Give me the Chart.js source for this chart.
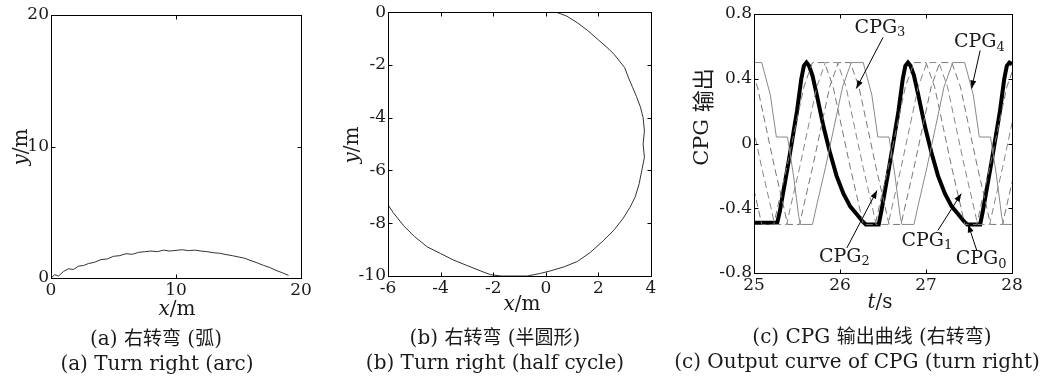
<!DOCTYPE html>
<html><head><meta charset="utf-8">
<script src="https://cdn.jsdelivr.net/npm/chart.js@4/dist/chart.umd.min.js"></script>
<style>
body{margin:0;background:#fff;width:1043px;height:385px;overflow:hidden;position:relative;font-family:"DejaVu Serif",serif;color:#1a1a1a}
canvas{position:absolute;left:0;top:0}
.cap{position:absolute;white-space:nowrap;transform:translate(-50%,-50%);font-size:20px;line-height:1}
.cjk{font-family:"Noto Sans CJK SC",sans-serif;font-size:19px}
</style></head><body>
<canvas id="ca" width="1043" height="385"></canvas>
<canvas id="cb" width="1043" height="385"></canvas>
<canvas id="cc" width="1043" height="385"></canvas>
<div class="cap" style="left:156px;top:337px">(a) <span class="cjk">右转弯</span> (<span class="cjk">弧</span>)</div>
<div class="cap" style="left:157px;top:363px">(a) Turn right (arc)</div>
<div class="cap" style="left:495px;top:336px">(b) <span class="cjk">右转弯</span> (<span class="cjk">半圆形</span>)</div>
<div class="cap" style="left:495px;top:362px">(b) Turn right (half cycle)</div>
<div class="cap" style="left:872px;top:335px">(c) CPG <span class="cjk">输出曲线</span> (<span class="cjk">右转弯</span>)</div>
<div class="cap" style="left:857px;top:361px">(c) Output curve of CPG (turn right)</div>
<script>
// ---------- data ----------
const arcX = [0,0.3,0.6,1,1.4,1.8,2.2,2.6,3,3.5,4,4.5,5,5.5,6,6.5,7,7.5,8,8.5,9,9.5,10,10.5,11,11.5,12,12.5,13,13.5,14,14.5,15,15.5,16,16.5,17,17.5,18,18.5,19];
const arcY = [0,0.25,0.15,0.5,0.7,0.65,0.9,0.95,1.1,1.2,1.4,1.45,1.65,1.7,1.85,1.8,1.95,2.0,2.05,2.0,2.12,2.05,2.1,2.15,2.08,2.12,2.05,2.0,1.92,1.88,1.78,1.7,1.6,1.5,1.32,1.15,0.96,0.8,0.58,0.4,0.2];

const circX = [0.4,0.8,1.2,1.6,2.0,2.4,2.6,2.8,3.0,3.15,3.3,3.45,3.6,3.7,3.75,3.7,3.75,3.65,3.55,3.4,3.2,2.95,2.6,2.2,1.7,1.2,0.7,0.2,-0.2,-0.7,-1.2,-1.7,-2.1,-2.5,-3.0,-3.5,-4.0,-4.5,-5.0,-5.4,-5.8,-6.0];
const circY = [0,-0.15,-0.4,-0.7,-1.05,-1.4,-1.6,-1.85,-2.1,-2.5,-2.85,-3.2,-3.6,-4.0,-4.5,-5.0,-5.5,-6.0,-6.5,-7.0,-7.4,-7.8,-8.25,-8.65,-9.1,-9.45,-9.65,-9.8,-9.9,-10,-10,-10,-9.95,-9.8,-9.6,-9.4,-9.15,-8.9,-8.5,-8.1,-7.6,-7.3];

const cpg0T = [25.0,25.27,25.30,25.40,25.50,25.55,25.58,25.61,25.64,25.68,25.73,25.81,25.88,25.96,26.04,26.12,26.20,26.26,26.30,26.45,26.48,26.58,26.68,26.73,26.76,26.79,26.82,26.86,26.91,26.99,27.06,27.14,27.22,27.30,27.38,27.44,27.48,27.63,27.66,27.76,27.86,27.91,27.94,27.97,28.0];
const cpg0V = [-0.49,-0.49,-0.42,-0.12,0.2,0.4,0.48,0.5,0.48,0.42,0.3,0.1,-0.05,-0.2,-0.31,-0.39,-0.44,-0.48,-0.5,-0.5,-0.42,-0.12,0.2,0.4,0.48,0.5,0.48,0.42,0.3,0.1,-0.05,-0.2,-0.31,-0.39,-0.44,-0.48,-0.5,-0.5,-0.42,-0.12,0.2,0.4,0.48,0.5,0.49];

const cpg1T = [24.50,24.64,24.74,24.84,24.94,25.04,25.09,25.23,25.28,25.38,25.48,25.58,25.68,25.82,25.92,26.02,26.12,26.22,26.27,26.41,26.46,26.56,26.66,26.76,26.86,27.00,27.10,27.20,27.30,27.40,27.45,27.59,27.64,27.74,27.84,27.94,28.04];
const cpg1V = [0.5,0.5,0.35,0.1,-0.15,-0.38,-0.5,-0.5,-0.38,-0.15,0.1,0.35,0.5,0.5,0.35,0.1,-0.15,-0.38,-0.5,-0.5,-0.38,-0.15,0.1,0.35,0.5,0.5,0.35,0.1,-0.15,-0.38,-0.5,-0.5,-0.38,-0.15,0.1,0.35,0.5];

const cpg2T = [24.65,24.79,24.89,24.99,25.09,25.19,25.24,25.38,25.43,25.53,25.63,25.73,25.83,25.97,26.07,26.17,26.27,26.37,26.42,26.56,26.61,26.71,26.81,26.91,27.01,27.15,27.25,27.35,27.45,27.55,27.60,27.74,27.79,27.89,27.99,28.09];
const cpg2V = [0.5,0.5,0.35,0.1,-0.15,-0.38,-0.5,-0.5,-0.38,-0.15,0.1,0.35,0.5,0.5,0.35,0.1,-0.15,-0.38,-0.5,-0.5,-0.38,-0.15,0.1,0.35,0.5,0.5,0.35,0.1,-0.15,-0.38,-0.5,-0.5,-0.38,-0.15,0.1,0.35];

const cpg3T = [24.80,24.94,25.04,25.14,25.24,25.34,25.39,25.53,25.58,25.68,25.78,25.88,25.98,26.12,26.22,26.32,26.42,26.52,26.57,26.71,26.76,26.86,26.96,27.06,27.16,27.30,27.40,27.50,27.60,27.70,27.75,27.89,27.94,28.04];
const cpg3V = [0.5,0.5,0.35,0.1,-0.15,-0.38,-0.5,-0.5,-0.38,-0.15,0.1,0.35,0.5,0.5,0.35,0.1,-0.15,-0.38,-0.5,-0.5,-0.38,-0.15,0.1,0.35,0.5,0.5,0.35,0.1,-0.15,-0.38,-0.5,-0.5,-0.38,-0.15];

const cpg4T = [24.95,25.09,25.19,25.26,25.39,25.46,25.52,25.54,25.68,25.73,25.83,25.93,26.03,26.13,26.27,26.37,26.44,26.57,26.64,26.70,26.72,26.86,26.91,27.01,27.11,27.21,27.31,27.45,27.55,27.62,27.75,27.82,27.88,27.90,28.04];
const cpg4V = [0.5,0.5,0.3,0.04,0.04,-0.2,-0.45,-0.5,-0.5,-0.38,-0.15,0.1,0.35,0.5,0.5,0.3,0.04,0.04,-0.2,-0.45,-0.5,-0.5,-0.38,-0.15,0.1,0.35,0.5,0.5,0.3,0.04,0.04,-0.2,-0.45,-0.5,-0.5];

const aTicksX = [0,10,20], aTicksY = [0,10,20];
const bTicksX = [-6,-4,-2,0,2,4], bTicksY = [-10,-8,-6,-4,-2,0];
const cTicksX = [25,26,27,28], cTicksY = [-0.8,-0.4,0,0.4,0.8];
const cTickLabelsY = ['-0.8','-0.4','0','0.4','0.8'];

// CPG labels: label anchor (t,v), arrow start (t,v), arrow tip (t,v)
const cpgLabels = [
  {n:'3', at:[26.465,0.716], from:[26.50,0.655], to:[26.19,0.34]},
  {n:'4', at:[27.62,0.626], from:[27.63,0.575], to:[27.53,0.34]},
  {n:'2', at:[26.05,-0.70], from:[26.08,-0.645], to:[26.43,-0.29]},
  {n:'1', at:[27.01,-0.60], from:[27.14,-0.536], to:[27.41,-0.31]},
  {n:'0', at:[27.64,-0.715], from:[27.59,-0.66], to:[27.49,-0.5]}
];

const pts = (xs, ys) => xs.map((x,i)=>({x, y: ys[i]}));
const SERIF = '"DejaVu Serif", serif';
const CJK = '"Noto Sans CJK SC", sans-serif';
const INK = '#1a1a1a';

function drawRuns(ctx, cx, cy, rot, runs){
  ctx.save();
  ctx.translate(cx, cy); ctx.rotate(rot);
  ctx.textBaseline = 'middle'; ctx.fillStyle = INK;
  let w = 0;
  runs.forEach(r=>{ ctx.font = r.f; r.w = ctx.measureText(r.t).width; w += r.w; });
  let x = -w/2;
  runs.forEach(r=>{ ctx.font = r.f; ctx.textAlign='left'; ctx.fillText(r.t, x, r.dy||0); x += r.w; });
  ctx.restore();
}

const framePlugin = {
  id: 'frame',
  afterDatasetsDraw(chart, args, opts){
    const {ctx, chartArea:a, scales:{x, y}} = chart;
    ctx.save();
    ctx.strokeStyle = '#000'; ctx.lineWidth = 1;
    const L = Math.round(a.left)+0.5, T = Math.round(a.top)+0.5, R = Math.round(a.right)+0.5, B = Math.round(a.bottom)+0.5;
    ctx.strokeRect(L, T, R-L, B-T);
    const tl = 4;
    ctx.beginPath();
    x.ticks.forEach(t=>{ const p = Math.round(x.getPixelForValue(t.value))+0.5; ctx.moveTo(p,B); ctx.lineTo(p,B-tl); ctx.moveTo(p,T); ctx.lineTo(p,T+tl); });
    y.ticks.forEach(t=>{ const p = Math.round(y.getPixelForValue(t.value))+0.5; ctx.moveTo(L,p); ctx.lineTo(L+tl,p); ctx.moveTo(R,p); ctx.lineTo(R-tl,p); });
    ctx.stroke();
    ctx.restore();
    (opts.texts||[]).forEach(tx => drawRuns(ctx, tx.x, tx.y, tx.rot||0, tx.runs));
    if (opts.labels){
      opts.labels.forEach(l=>{
        const ax = x.getPixelForValue(l.at[0]), ay = y.getPixelForValue(l.at[1]);
        drawRuns(ctx, ax, ay, 0, [{t:'CPG', f:'19px '+SERIF},{t:l.n, f:'13px '+SERIF, dy:5}]);
        const fx = x.getPixelForValue(l.from[0]), fy = y.getPixelForValue(l.from[1]);
        const tx = x.getPixelForValue(l.to[0]), ty = y.getPixelForValue(l.to[1]);
        ctx.save();
        ctx.strokeStyle = '#000'; ctx.fillStyle = '#000'; ctx.lineWidth = 1;
        ctx.beginPath(); ctx.moveTo(fx,fy); ctx.lineTo(tx,ty); ctx.stroke();
        const ang = Math.atan2(ty-fy, tx-fx), h = 8, wdt = 3;
        ctx.beginPath();
        ctx.moveTo(tx,ty);
        ctx.lineTo(tx - h*Math.cos(ang) + wdt*Math.sin(ang), ty - h*Math.sin(ang) - wdt*Math.cos(ang));
        ctx.lineTo(tx - h*Math.cos(ang) - wdt*Math.sin(ang), ty - h*Math.sin(ang) + wdt*Math.cos(ang));
        ctx.closePath(); ctx.fill();
        ctx.restore();
      });
    }
  }
};

function axes(tx, ty, yW, xH, ylabels){
  const tickFont = {family: SERIF, size: 17};
  return {
    x: {type:'linear', min: tx[0], max: tx[tx.length-1],
        afterBuildTicks: s => { s.ticks = tx.map(v=>({value:v})); },
        afterFit: s => { s.height = xH; },
        grid:{display:false, drawTicks:false}, border:{display:false},
        ticks:{font: tickFont, color:INK, padding:2, maxRotation:0, autoSkip:false}},
    y: {type:'linear', min: ty[0], max: ty[ty.length-1],
        afterBuildTicks: s => { s.ticks = ty.map(v=>({value:v})); },
        afterFit: s => { s.width = yW; },
        grid:{display:false, drawTicks:false}, border:{display:false},
        ticks:{font: tickFont, color:INK, padding:2, autoSkip:false,
               callback: ylabels ? ((v,i)=>ylabels[i]) : (v=>String(v))}}
  };
}

Chart.defaults.animation = false;
Chart.defaults.responsive = false;
Chart.defaults.devicePixelRatio = 1;

const common = (pad) => ({
  layout:{padding: pad},
  events: []
});

// (a)
new Chart(document.getElementById('ca'), {
  type:'scatter',
  data:{datasets:[{data: pts(arcX, arcY), showLine:true, borderColor:'#333', borderWidth:1, pointRadius:0, tension:0}]},
  options: Object.assign(common({left:11, top:15, right:742, bottom:77}), {
    scales: axes(aTicksX, aTicksY, 40, 30),
    plugins:{legend:{display:false}, tooltip:{enabled:false},
      frame:{texts:[
        {x:177, y:310, runs:[{t:'x', f:'italic 20px '+SERIF},{t:'/m', f:'20px '+SERIF}]},
        {x:22, y:147, rot:-Math.PI/2, runs:[{t:'y', f:'italic 20px '+SERIF},{t:'/m', f:'20px '+SERIF}]}
      ]}}
  }),
  plugins:[framePlugin]
});

// (b)
new Chart(document.getElementById('cb'), {
  type:'scatter',
  data:{datasets:[{data: pts(circX, circY), showLine:true, borderColor:'#333', borderWidth:1, pointRadius:0, tension:0}]},
  options: Object.assign(common({left:348, top:12, right:392, bottom:79}), {
    scales: axes(bTicksX, bTicksY, 40, 30),
    plugins:{legend:{display:false}, tooltip:{enabled:false},
      frame:{texts:[
        {x:522, y:305, runs:[{t:'x', f:'italic 20px '+SERIF},{t:'/m', f:'20px '+SERIF}]},
        {x:353, y:145, rot:-Math.PI/2, runs:[{t:'y', f:'italic 20px '+SERIF},{t:'/m', f:'20px '+SERIF}]}
      ]}}
  }),
  plugins:[framePlugin]
});

// (c)
const thin = (t, v, dash, col) => ({data: pts(t, v), showLine:true, borderColor:col, borderWidth:1, borderDash:dash, pointRadius:0, tension:0});
new Chart(document.getElementById('cc'), {
  type:'scatter',
  data:{datasets:[
    thin(cpg4T, cpg4V, [], '#888'),
    thin(cpg3T, cpg3V, [7,4], '#777'),
    thin(cpg2T, cpg2V, [7,4], '#888'),
    thin(cpg1T, cpg1V, [7,4], '#777'),
    {data: pts(cpg0T, cpg0V), showLine:true, borderColor:'#000', borderWidth:4, pointRadius:0, tension:0}
  ]},
  options: Object.assign(common({left:714, top:14, right:31, bottom:82}), {
    scales: axes(cTicksX, cTicksY, 40, 30, cTickLabelsY),
    plugins:{legend:{display:false}, tooltip:{enabled:false},
      frame:{
        texts:[
          {x:880, y:303, runs:[{t:'t', f:'italic 20px '+SERIF},{t:'/s', f:'20px '+SERIF}]},
          {x:703, y:117, rot:-Math.PI/2, runs:[{t:'CPG ', f:'21px '+SERIF},{t:'输出', f:'22px '+CJK}]}
        ],
        labels: cpgLabels
      }}
  }),
  plugins:[framePlugin]
});
</script>
</body></html>
